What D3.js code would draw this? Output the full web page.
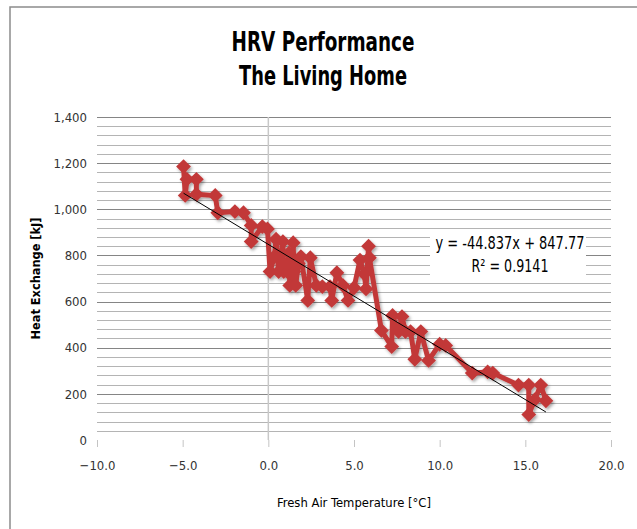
<!DOCTYPE html>
<html lang="en">
<head>
<meta charset="UTF-8">
<title>HRV Performance</title>
<script src="https://d3js.org/d3.v7.min.js"></script>
<style>
  body { margin: 0; background: #fff; }
  svg text { font-family: "DejaVu Sans", "Liberation Sans", sans-serif; font-stretch: condensed; }
</style>
</head>
<body>
<div id="chart"></div>
<script>
// readings: fresh air temperature (°C) and heat exchange (kJ), in series order
const temps = [-4.95, -4.85, -4.75, -4.2, -4.2, -3.1, -2.95, -1.95, -1.45, -1.0, -1.0, -0.35, -0.05,
  0.1, 0.35, 0.45, 0.6, 0.85, 0.9, 1.1, 1.2, 1.25, 1.45, 1.5, 1.6, 1.75, 1.9, 2.3, 2.45, 2.8, 3.15,
  3.6, 3.7, 4.0, 4.35, 4.65, 5.0, 5.35, 5.6, 5.7, 5.85, 5.9, 6.6, 7.2, 7.25, 7.6, 7.8, 8.0, 8.3,
  8.55, 8.9, 9.35, 10.0, 10.35, 11.9, 12.8, 13.1, 14.6, 15.2, 15.2, 15.55, 15.9, 16.2];
const heat = [1185, 1060, 1130, 1130, 1065, 1060, 985, 990, 985, 930, 860, 925, 915,
  730, 795, 870, 730, 860, 730, 730, 810, 670, 855, 730, 670, 765, 795, 605, 790, 670, 665,
  665, 605, 725, 670, 605, 660, 780, 720, 655, 840, 790, 475, 405, 540, 470, 535, 470, 470,
  350, 470, 345, 415, 410, 290, 295, 290, 238, 238, 110, 175, 238, 170];

// linear trendline as printed on the chart
const slope = -44.837;
const intercept = 847.77;
const eqLines = ["y = -44.837x + 847.77", "R² = 0.9141"];

const xTicks = [-10, -5, 0, 5, 10, 15, 20];
const yMajor = [0, 200, 400, 600, 800, 1000, 1200, 1400];
const yMinorStep = 40;

const titleLines = ["HRV Performance", "The Living Home"];
const xTitle = "Fresh Air Temperature [°C]";
const yTitle = "Heat Exchange [kJ]";

const W = 637, H = 529;
const plot = {left: 97, right: 611, top: 117, bottom: 440};
const RED = "#c23939";

const svg = d3.select("#chart").append("svg")
  .attr("width", W).attr("height", H);

const defs = svg.append("defs");
const shadow = defs.append("filter").attr("id", "shadow")
  .attr("x", "-20%").attr("y", "-20%").attr("width", "140%").attr("height", "140%");
shadow.append("feDropShadow").attr("dx", 1.5).attr("dy", 2)
  .attr("stdDeviation", 1.5).attr("flood-color", "#000").attr("flood-opacity", 0.35);

// outer chart frame (only top and left edges land inside the picture)
svg.append("rect").attr("x", 10).attr("y", 7).attr("width", 700).attr("height", 600)
  .attr("fill", "#fff").attr("stroke", "#8c8c8c").attr("stroke-width", 1.5);

const x = d3.scaleLinear().domain([-10, 20]).range([plot.left, plot.right]);
const y = d3.scaleLinear().domain([0, 1400]).range([plot.bottom, plot.top]);

// gridlines
const minor = d3.range(yMinorStep, 1400, yMinorStep).filter(v => v % 200 !== 0);
svg.append("g").selectAll("line").data(minor).join("line")
  .attr("x1", plot.left).attr("x2", plot.right)
  .attr("y1", d => Math.round(y(d)) + 0.5).attr("y2", d => Math.round(y(d)) + 0.5)
  .attr("stroke", "#b4b4b4").attr("stroke-width", 1);
svg.append("g").selectAll("line").data(yMajor.filter(v => v > 0)).join("line")
  .attr("x1", plot.left).attr("x2", plot.right)
  .attr("y1", d => Math.round(y(d)) + 0.5).attr("y2", d => Math.round(y(d)) + 0.5)
  .attr("stroke", "#858585").attr("stroke-width", 1.2);

// vertical value axis crossing at x = 0
svg.append("line")
  .attr("x1", x(0)).attr("x2", x(0)).attr("y1", plot.top).attr("y2", plot.bottom)
  .attr("stroke", "#c8c8c8").attr("stroke-width", 1.5);

// x axis: ticks and labels, no axis line
const xAxis = svg.append("g").attr("transform", `translate(0,${plot.bottom})`)
  .call(d3.axisBottom(x).tickValues(xTicks).tickSize(7).tickPadding(14)
    .tickFormat(d3.format(".1f")));
xAxis.select(".domain").remove();
xAxis.selectAll(".tick line").attr("stroke", "#c4c4c4");
xAxis.selectAll(".tick text").attr("fill", "#333").style("font-size", "13px");

// y axis: labels only
const yAxis = svg.append("g").attr("transform", `translate(${plot.left},0)`)
  .call(d3.axisLeft(y).tickValues(yMajor).tickSize(0).tickPadding(10)
    .tickFormat(d3.format(",")));
yAxis.select(".domain").remove();
yAxis.selectAll(".tick text").attr("fill", "#333").style("font-size", "13px");

// equation box (white background hides gridlines)
const eqBox = {x0: 430, x1: 586, y0: 229, y1: 280};
svg.append("rect").attr("x", eqBox.x0).attr("y", eqBox.y0)
  .attr("width", eqBox.x1 - eqBox.x0).attr("height", eqBox.y1 - eqBox.y0)
  .attr("fill", "#fff");

// series
const data = temps.map((t, i) => ({t, v: heat[i]}));
const series = svg.append("g").attr("filter", "url(#shadow)");
series.append("path").datum(data)
  .attr("d", d3.line().x(d => x(d.t)).y(d => y(d.v)))
  .attr("fill", "none").attr("stroke", RED).attr("stroke-width", 5)
  .attr("stroke-linejoin", "round");
series.selectAll("path.mark").data(data).join("path")
  .attr("class", "mark")
  .attr("d", d3.symbol(d3.symbolSquare, 110))
  .attr("transform", d => `translate(${x(d.t)},${y(d.v)}) rotate(45)`)
  .attr("fill", RED);

// trendline over the data range
const tExtent = d3.extent(temps);
svg.append("line")
  .attr("x1", x(tExtent[0])).attr("y1", y(slope * tExtent[0] + intercept))
  .attr("x2", x(tExtent[1])).attr("y2", y(slope * tExtent[1] + intercept))
  .attr("stroke", "#000").attr("stroke-width", 1);

// equation text
const eqWidths = [149, 77];
svg.append("g").selectAll("text").data(eqLines).join("text")
  .attr("x", (eqBox.x0 + eqBox.x1) / 2 + 2)
  .attr("y", (d, i) => 249 + i * 23)
  .attr("text-anchor", "middle")
  .attr("textLength", (d, i) => eqWidths[i]).attr("lengthAdjust", "spacingAndGlyphs")
  .style("font-size", "17px").attr("fill", "#000")
  .text(d => d);

// titles
const titleWidths = [183, 168];
svg.append("g").selectAll("text").data(titleLines).join("text")
  .attr("x", 323).attr("y", (d, i) => 51 + i * 34)
  .attr("text-anchor", "middle")
  .attr("textLength", (d, i) => titleWidths[i]).attr("lengthAdjust", "spacingAndGlyphs")
  .style("font-size", "26px").style("font-weight", "bold")
  .text(d => d);

svg.append("text")
  .attr("x", (plot.left + plot.right) / 2).attr("y", 507)
  .attr("text-anchor", "middle").style("font-size", "13px")
  .attr("textLength", 154).attr("lengthAdjust", "spacingAndGlyphs")
  .text(xTitle);

svg.append("text")
  .attr("transform", `translate(40,${(plot.top + plot.bottom) / 2}) rotate(-90)`)
  .attr("text-anchor", "middle").style("font-size", "12px").style("font-weight", "bold")
  .attr("textLength", 122).attr("lengthAdjust", "spacingAndGlyphs")
  .text(yTitle);
</script>
</body>
</html>
